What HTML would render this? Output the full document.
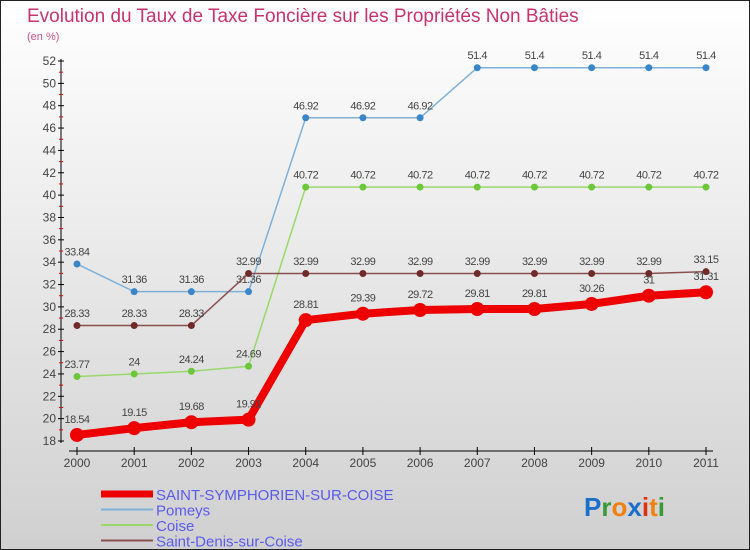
<!DOCTYPE html>
<html><head><meta charset="utf-8"><style>
body{margin:0}
#c{width:748px;height:548px;border:1px solid #222;background:linear-gradient(#fff,#d0d0d0);position:relative;overflow:hidden;font-family:"Liberation Sans",sans-serif}
</style></head><body>
<div id="c">
<svg id="s" width="748" height="548" style="position:absolute;left:0;top:0">
<text x="26" y="21" font-size="19" fill="#c8326e">Evolution du Taux de Taxe Foncière sur les Propriétés Non Bâties</text>
<text x="26" y="39" font-size="11" fill="#c8508a">(en %)</text>
<g id="axes"></g><g id="series"></g><g id="legend"></g>
<text x="583" y="515" font-size="26" font-weight="bold"><tspan fill="#1a6fc9">P</tspan><tspan fill="#3a9a3a">r</tspan><tspan fill="#f08010">o</tspan><tspan fill="#1a6fc9">x</tspan><tspan fill="#e03010">i</tspan><tspan fill="#f08010">t</tspan><tspan fill="#3a9a3a">i</tspan></text>
</svg>
</div>
<script>
const years=[2000,2001,2002,2003,2004,2005,2006,2007,2008,2009,2010,2011];
const yTicks=[18,20,22,24,26,28,30,32,34,36,38,40,42,44,46,48,50,52];
const saint=[18.54,19.15,19.68,19.91,28.81,29.39,29.72,29.81,29.81,30.26,31,31.31];
const pomeys=[33.84,31.36,31.36,31.36,46.92,46.92,46.92,51.4,51.4,51.4,51.4,51.4];
const coise=[23.77,24,24.24,24.69,40.72,40.72,40.72,40.72,40.72,40.72,40.72,40.72];
const sdenis=[28.33,28.33,28.33,32.99,32.99,32.99,32.99,32.99,32.99,32.99,32.99,33.15];
const names=["SAINT-SYMPHORIEN-SUR-COISE","Pomeys","Coise","Saint-Denis-sur-Coise"];
const NS="http://www.w3.org/2000/svg";
const X=i=>76+i*(705-76)/11;
const Y=v=>440-(v-18)*380/34;
function mk(t,a,p){const e=document.createElementNS(NS,t);for(const k in a)e.setAttribute(k,a[k]);p.appendChild(e);return e;}
const ax=document.getElementById('axes');
let l=mk('line',{x1:60,y1:58,x2:60,y2:442,stroke:'#000'},ax);


l=mk('line',{x1:68,y1:450,x2:712,y2:450,stroke:'#000'},ax);


yTicks.forEach((v,i)=>{
 mk('line',{x1:57,x2:63,y1:Y(v),y2:Y(v),stroke:'#000'},ax);
 if(i<yTicks.length-1)mk('line',{x1:58,x2:62,y1:Y(v+1),y2:Y(v+1),stroke:'#e00'},ax);
 const t=mk('text',{x:55,y:Y(v)+4,'font-size':12,fill:'#444','text-anchor':'end'},ax);t.textContent=v;
 
 
});
years.forEach((y,i)=>{
 mk('line',{x1:X(i),x2:X(i),y1:446,y2:454,stroke:'#000'},ax);
 const t=mk('text',{x:X(i),y:466,'font-size':12,fill:'#444','text-anchor':'middle'},ax);t.textContent=y;
 
 
});
const sg=document.getElementById('series');
function draw(vals,color,w,r,dot,name){
 const g=mk('g',{},sg);
 
 
 mk('polyline',{points:vals.map((v,i)=>X(i)+','+Y(v)).join(' '),fill:'none',stroke:color,'stroke-width':w,'stroke-linejoin':'round'},g);
 vals.forEach((v,i)=>{
  const c=mk('circle',{cx:X(i),cy:Y(v),r:r,fill:dot},g);
  
  
  const t=mk('text',{x:X(i),y:Y(v)-(r+5),'font-size':11,fill:'#444','text-anchor':'middle','letter-spacing':'-0.5'},g);t.textContent=v;
  
  
 });
}
draw(pomeys,'#7fb0d8',1.5,3.5,'#3a86c8','series-pomeys');
draw(coise,'#9ad86a',1.5,3.5,'#6cc83a','series-coise');
draw(sdenis,'#8a5050',1.5,3.5,'#702a2a','series-saint-denis');
draw(saint,'#ee0000',8,7,'#ee0000','series-saint-symphorien');
const lg=document.getElementById('legend');
const lc=['#ee0000','#7fb0d8','#9ad86a','#8a5050'],lw=[7,2,2,2];
names.forEach((n,i)=>{
 const y=493+i*15.5;
 const ln=mk('line',{x1:100,x2:152,y1:y,y2:y,stroke:lc[i],'stroke-width':lw[i]},lg);
 
 
 const t=mk('text',{x:155,y:y+6,'font-size':15,fill:'#5a5aee'},lg);t.textContent=n;
 
 
});
</script>
</body></html>
